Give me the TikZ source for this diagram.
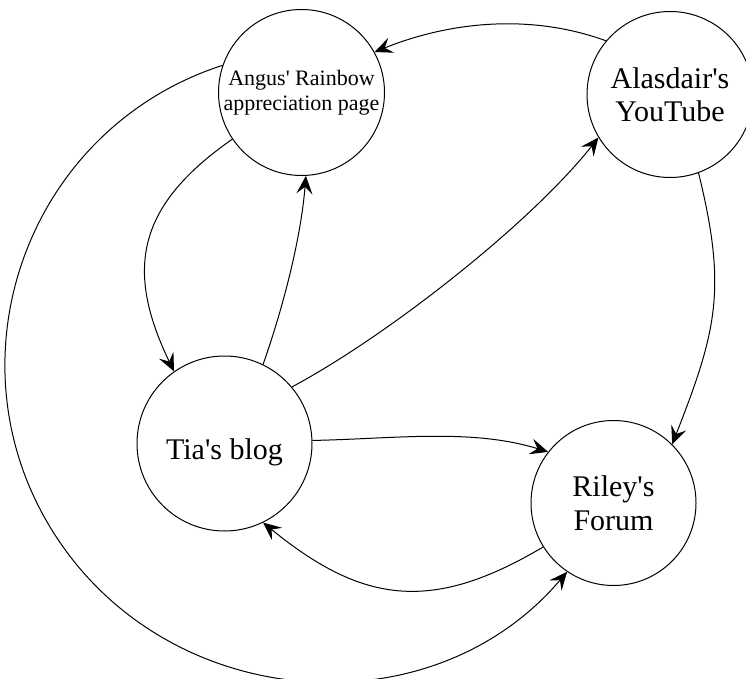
\documentclass[tikz,border=0pt]{standalone}
\usepackage{fontspec}
\setmainfont{Liberation Serif}[Ligatures=TeXOff]
\usetikzlibrary{arrows.meta}
\begin{document}
\begin{tikzpicture}[x=1pt,y=-1pt,
  site/.style={circle,draw,line width=1pt,inner sep=0pt,align=center,fill=white},
  link/.style={line width=1pt,-{Stealth[length=18pt,width=16pt,inset=7pt]}}]
\useasboundingbox (0,0) rectangle (746,679);
\node[site,minimum size=166pt,font=\fontsize{22}{25.5}\selectfont] (angus) at (301.5,92.5) {Angus' Rainbow\\appreciation page};
\node[site,minimum size=166pt,font=\fontsize{30}{33.5}\selectfont] (alasdair) at (670,94.5) {Alasdair's\\YouTube};
\node[site,minimum size=175pt,font=\fontsize{30}{33.5}\selectfont] (tia) at (224.5,443.5) {\raisebox{-16pt}[0pt][0pt]{Tia's blog}};
\node[site,minimum size=165pt,font=\fontsize{30}{33.5}\selectfont] (riley) at (613.5,503) {Riley's\\Forum};
\coordinate (loopmid) at (59,541);
% Alasdair -> Angus
\draw[link] (alasdair.140) .. controls (530,13) and (449,22) .. (angus.29);
% Angus -> Tia
\draw[link] (angus.214) .. controls (138,205) and (124,268) .. (tia.125);
% Tia -> Angus
\draw[link] (tia.64) .. controls (283,308) and (301,238) .. (angus.273);
% Tia -> Alasdair
\draw[link] (tia.40) .. controls (389,335) and (532,222) .. (alasdair.211);
% Tia -> Riley
\draw[link] (tia.2) .. controls (392,439) and (471,428) .. (riley.142);
% Riley -> Tia
\draw[link] (riley.212) .. controls (432,613) and (363,604) .. (tia.296);
% Alasdair -> Riley
\draw[link] (alasdair.290) .. controls (727,289) and (717,330) .. (riley.45);
% Angus -> Riley (big loop)
\draw[link] (angus.161) .. controls (23,130) and (-58,368) .. (loopmid)
  .. controls (176,714) and (433,730) .. (riley.236);
\end{tikzpicture}
\end{document}
